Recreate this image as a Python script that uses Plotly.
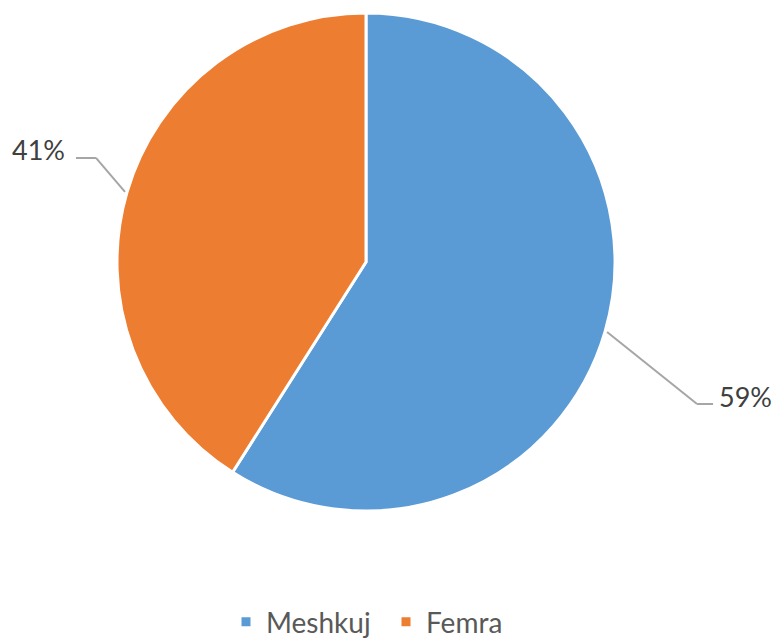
import math
import plotly.graph_objects as go

# ---- data ----
labels = ["Meshkuj", "Femra"]
values = [59, 41]
colors = ["#5B9BD5", "#ED7D31"]

# ---- layout / styling ----
W, H = 777, 639
cx, cy, R = 366, 262, 249           # pie centre and radius in pixels
elbow_dx = [90, -29]                # leader-line elbow offsets (pixels)
elbow_dy = [72, -34]
tails = [16, 20]                    # horizontal leader segment lengths
gaps = [4, 9]                       # gap between leader end and label
FONT = "Lato"

fig = go.Figure()
fig.add_trace(go.Pie(
    labels=labels, values=values, sort=False, direction="clockwise", rotation=0,
    marker=dict(colors=colors, line=dict(color="white", width=3)),
    textinfo="none", hoverinfo="skip",
    domain=dict(x=[(cx - R) / W, (cx + R) / W], y=[1 - (cy + R) / H, 1 - (cy - R) / H]),
))

def px(x, y):
    return x / W, 1 - y / H

total = sum(values)
cum = 0
shapes, annotations = [], []
for i, v in enumerate(values):
    mid = (cum + v / 2) / total * 2 * math.pi
    cum += v
    sx = cx + (R + 2) * math.sin(mid)
    sy = cy - (R + 2) * math.cos(mid)
    ex, ey = sx + elbow_dx[i], sy + elbow_dy[i]
    side = 1 if math.sin(mid) > 0 else -1
    tx = ex + side * tails[i]
    for (a, b), (c, d) in [((sx, sy), (ex, ey)), ((ex, ey), (tx, ey))]:
        x0, y0 = px(a, b)
        x1, y1 = px(c, d)
        shapes.append(dict(type="line", xref="paper", yref="paper", x0=x0, y0=y0, x1=x1, y1=y1,
                           line=dict(color="#A6A6A6", width=2)))
    ax, ay = px(tx + side * gaps[i], ey - 8)
    pct = round(v / total * 100)
    annotations.append(dict(text=f"{pct}%", x=ax, y=ay, xref="paper", yref="paper",
                            xanchor="left" if side > 0 else "right", yanchor="middle",
                            showarrow=False, font=dict(family=FONT, size=27, color="#404040")))

fig.update_layout(
    width=W, height=H, margin=dict(l=0, r=0, t=0, b=0, autoexpand=False),
    paper_bgcolor="white", plot_bgcolor="white",
    shapes=shapes, annotations=annotations,
    showlegend=True,
    legend=dict(orientation="h", x=(271 - 45) / W, xanchor="left", y=1 - 622 / H, yanchor="middle",
                font=dict(family=FONT, size=28, color="#595959"), itemwidth=30,
                entrywidth=115, traceorder="normal"),
)
fig.write_html("out.html", post_script="document.body.style.margin='0';",
               config={"displayModeBar": False})
